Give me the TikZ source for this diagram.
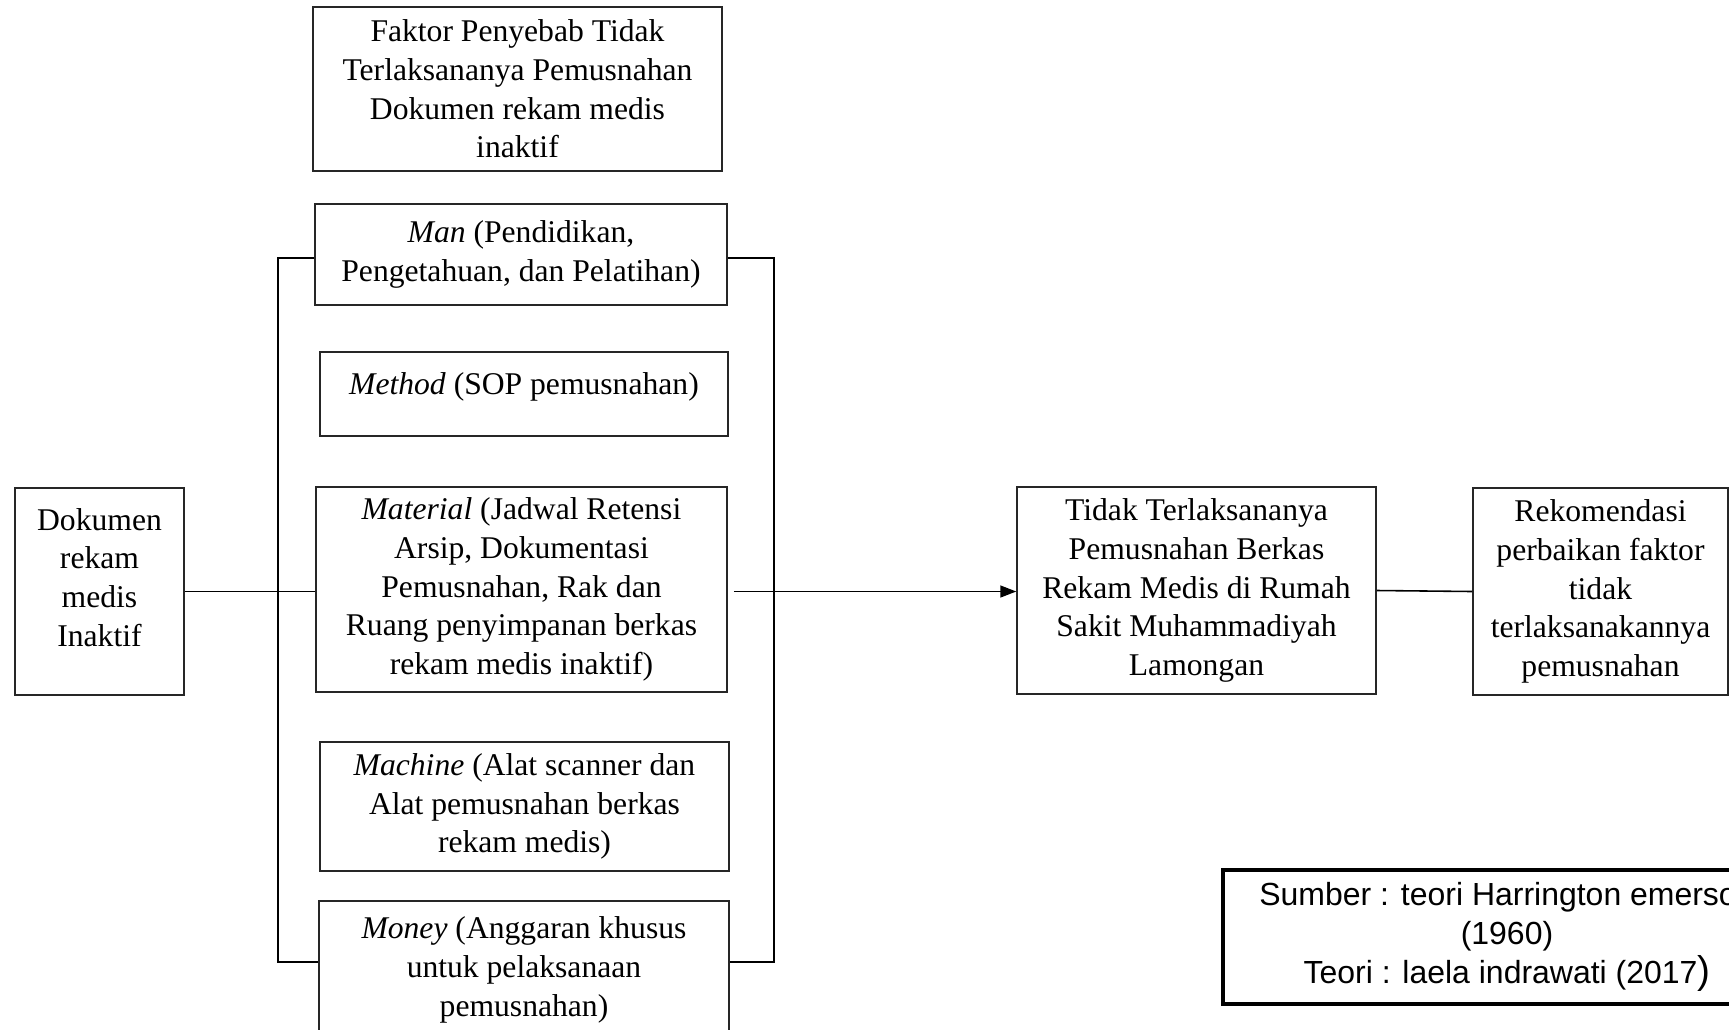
\documentclass[tikz,border=0pt]{standalone}
\usepackage{fontspec}
\setmainfont{Liberation Serif}
\newfontfamily\arialfont{Liberation Sans}
\usepackage{tikz}
\usetikzlibrary{arrows.meta, calc}

\begin{document}
\begin{tikzpicture}[
    x=0.02cm, y=-0.02cm,
    box/.style={
        rectangle, draw=black!85, line width=0.9pt, inner sep=0pt,
        align=center, font=\fontsize{18}{22}\selectfont
    },
    src/.style={
        rectangle, draw=black, line width=2.2pt, inner sep=0pt,
        align=center, font=\arialfont\fontsize{18.2}{22}\selectfont,
        minimum width=11.36cm, minimum height=2.68cm
    },
    line/.style={black, line width=0.9pt},
    arr/.style={-{Triangle[length=3.2mm, width=2.4mm]}, black, line width=0.9pt}
]
\useasboundingbox (0,0) rectangle (1729,1029);

% Factor title at top
\node[box, minimum width=8.18cm, minimum height=3.28cm] (faktor) at (517.5,89)
    {Faktor Penyebab Tidak\\Terlaksananya Pemusnahan\\Dokumen rekam medis\\inaktif};

% The five M factors
\node[box, minimum width=8.24cm, minimum height=2.02cm] (man) at (521,254.5)
    {\textit{Man} (Pendidikan,\\Pengetahuan, dan Pelatihan)};
\node[box, minimum width=8.16cm, minimum height=1.68cm] (method) at (524,394)
    {\textit{Method} (SOP pemusnahan)\\[-0.35cm]};
\node[box, minimum width=8.22cm, minimum height=4.10cm] (material) at (521.5,589.5)
    {\textit{Material} (Jadwal Retensi\\Arsip, Dokumentasi\\Pemusnahan, Rak dan\\Ruang penyimpanan berkas\\rekam medis inaktif)};
\node[box, minimum width=8.18cm, minimum height=2.58cm] (machine) at (524.5,806.5)
    {\textit{Machine} (Alat scanner dan\\Alat pemusnahan berkas\\rekam medis)};
\node[box, minimum width=8.20cm, minimum height=2.76cm] (money) at (524,970)
    {\textit{Money} (Anggaran khusus\\untuk pelaksanaan\\pemusnahan)};

% Input, problem and output
\node[box, minimum width=3.38cm, minimum height=4.14cm] (dok) at (99.5,591.5)
    {Dokumen\\rekam\\medis\\Inaktif\\[-0.2cm]};
\node[box, minimum width=7.18cm, minimum height=4.14cm] (tidak) at (1196.5,590.5)
    {Tidak Terlaksananya\\Pemusnahan Berkas\\Rekam Medis di Rumah\\Sakit Muhammadiyah\\Lamongan};
\node[box, minimum width=5.10cm, minimum height=4.14cm] (rekom) at (1600.5,591.5)
    {Rekomendasi\\perbaikan faktor\\tidak\\terlaksanakannya\\pemusnahan};

% Source note
\node[src] (sumber) at (1507,937)
    {Sumber : teori Harrington emerson\\(1960)\\Teori : laela indrawati (2017{\fontsize{22}{22}\selectfont)}};

% Brackets round the factors
\coordinate (lt) at (278,258);
\coordinate (lb) at (278,962);
\coordinate (rt) at (774,258);
\coordinate (rb) at (774,962);
\draw[line] (lt -| man.west) -- (lt) -- (lb) -- (lb -| money.west);
\draw[line] (rt -| man.east) -- (rt) -- (rb) -- (rb -| money.east);

% Connections
\coordinate (mout) at ($(material.east)+(6,2)$);
\draw[line] (dok.east) -- (dok.east -| material.west);
\draw[arr] (mout) -- (mout -| tidak.west);
\draw[line] (tidak.east) -- (rekom.west);

\end{tikzpicture}
\end{document}
